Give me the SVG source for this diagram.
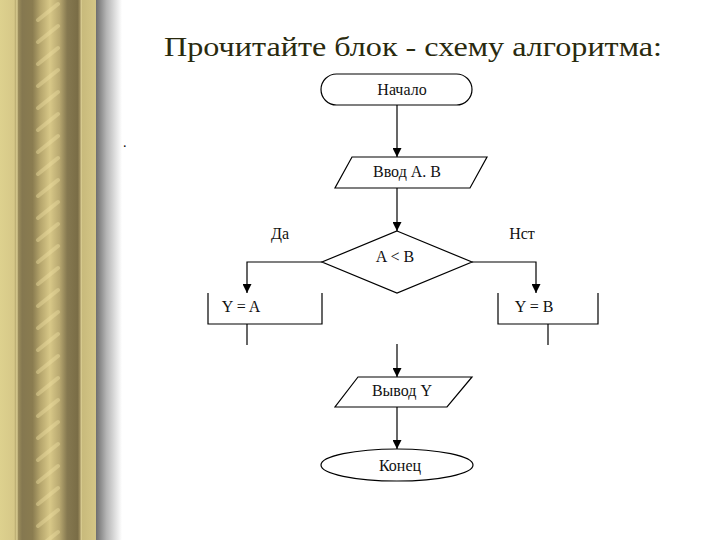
<svg xmlns="http://www.w3.org/2000/svg" width="720" height="540" viewBox="0 0 720 540">
<defs>
<linearGradient id="bar" gradientUnits="userSpaceOnUse" x1="0" y1="0" x2="96" y2="0">
<stop offset="0" stop-color="#ddd18e"/>
<stop offset="0.146" stop-color="#d6c888"/>
<stop offset="0.166" stop-color="#b8aa70"/>
<stop offset="0.177" stop-color="#e8dca0"/>
<stop offset="0.188" stop-color="#9c8e5c"/>
<stop offset="0.23" stop-color="#857850"/>
<stop offset="0.34" stop-color="#8a7c50"/>
<stop offset="0.42" stop-color="#b5a56c"/>
<stop offset="0.52" stop-color="#d8c888"/>
<stop offset="0.62" stop-color="#b8a870"/>
<stop offset="0.70" stop-color="#857850"/>
<stop offset="0.81" stop-color="#7a6d46"/>
<stop offset="0.835" stop-color="#a09060"/>
<stop offset="0.845" stop-color="#e0d49a"/>
<stop offset="0.855" stop-color="#c8ba7c"/>
<stop offset="1" stop-color="#d4c686"/>
</linearGradient>
<linearGradient id="shadow" x1="0" y1="0" x2="1" y2="0">
<stop offset="0" stop-color="#6e6e6e"/>
<stop offset="0.4" stop-color="#b4b4b4"/>
<stop offset="1" stop-color="#ffffff"/>
</linearGradient>
<pattern id="streak" patternUnits="userSpaceOnUse" x="0" y="0" width="96" height="22">
<path d="M38,20 L58,4" stroke="#efe0a2" stroke-width="4" stroke-opacity="0.4" stroke-linecap="round"/>
</pattern>
<marker id="arrow" viewBox="0 0 10 10" refX="10" refY="5" markerWidth="9" markerHeight="9" markerUnits="userSpaceOnUse" orient="auto">
<path d="M0,0 L10,5 L0,10 Z" fill="#000"/>
</marker>
<style>
.shape{fill:#fff;stroke:#000;stroke-width:1.2}
.open{fill:none;stroke:#000;stroke-width:1.2}
.lbl{font-family:"Liberation Serif","Times New Roman",serif;font-size:16px;fill:#111;text-anchor:middle}
.conn{fill:none;stroke:#000;stroke-width:1.2}
</style>
</defs>
<rect x="0" y="0" width="720" height="540" fill="#fff"/>
<g id="border">
<rect x="0" y="0" width="96" height="540" fill="url(#bar)"/>
<rect x="33" y="0" width="34" height="540" fill="url(#streak)"/>
<rect x="96" y="0" width="26" height="540" fill="url(#shadow)"/>
</g>
<text x="123" y="147" font-family="Liberation Serif, serif" font-size="14" fill="#000">.</text>
<text id="title" x="164" y="56" font-family="&quot;Liberation Serif&quot;, &quot;Times New Roman&quot;, serif" font-size="28" fill="#2a2a0e" textLength="498" lengthAdjust="spacingAndGlyphs">Прочитайте блок - схему алгоритма:</text>
<g id="connectors">
<path class="conn" d="M397,105 V157" marker-end="url(#arrow)"/>
<path class="conn" d="M397,188 V231" marker-end="url(#arrow)"/>
<path class="conn" d="M322,262 H247 V293" marker-end="url(#arrow)"/>
<path class="conn" d="M472,262 H536 V293" marker-end="url(#arrow)"/>
<path class="conn" d="M247,324 V345"/>
<path class="conn" d="M548,324 V345"/>
<path class="conn" d="M397,344 V377" marker-end="url(#arrow)"/>
<path class="conn" d="M397,407 V449" marker-end="url(#arrow)"/>
</g>
<g id="start">
<rect class="shape" x="321" y="74" width="151" height="31" rx="15.5" ry="15.5"/>
<text class="lbl" x="402" y="95">Начало</text>
</g>
<g id="input">
<polygon class="shape" points="352,157 487,157 470,188 335,188"/>
<text class="lbl" x="407" y="177">Ввод A. B</text>
</g>
<g id="decision">
<polygon class="shape" points="397,231 472,262 397,293 322,262"/>
<text class="lbl" x="395" y="262">A &lt; B</text>
</g>
<g id="procA">
<path class="open" d="M208,293 V324 H322 V293"/>
<text class="lbl" x="241" y="312">Y = A</text>
</g>
<g id="procB">
<path class="open" d="M498,293 V324 H598 V293"/>
<text class="lbl" x="534" y="312">Y = B</text>
</g>
<g id="output">
<polygon class="shape" points="358,377 472,377 447,407 335,407"/>
<text class="lbl" x="402" y="396">Вывод Y</text>
</g>
<g id="end">
<ellipse class="shape" cx="397" cy="465" rx="76" ry="16"/>
<text class="lbl" x="400" y="471">Конец</text>
</g>
<g id="labels">
<text class="lbl" x="280" y="239">Да</text>
<text class="lbl" x="522" y="239">Нст</text>
</g>
</svg>
